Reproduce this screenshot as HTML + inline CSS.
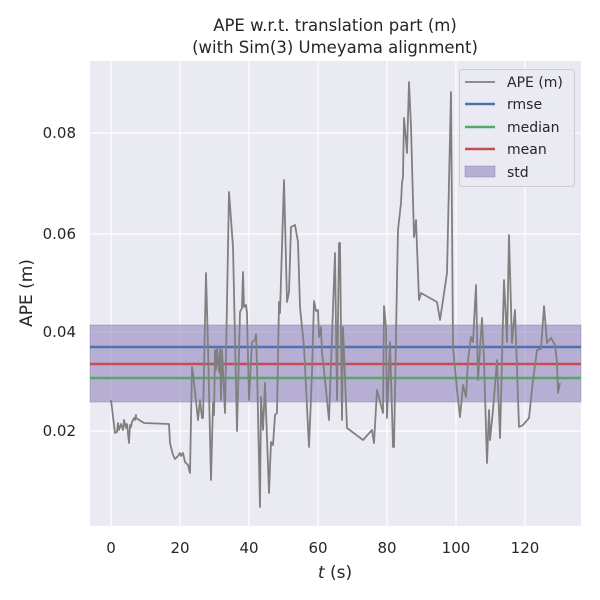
<!DOCTYPE html>
<html><head><style>body{margin:0;background:#fff}svg{display:block}</style></head><body>
<svg width="600" height="600" viewBox="0 0 600 600" font-family="'DejaVu Sans','Liberation Sans',sans-serif">
<rect x="0" y="0" width="600" height="600" fill="#fff"/>
<rect x="90" y="61" width="491" height="465" fill="#eaeaf2"/>
<g stroke="#fff" stroke-width="1.2">
<line x1="111" y1="61" x2="111" y2="526"/><line x1="180" y1="61" x2="180" y2="526"/><line x1="249" y1="61" x2="249" y2="526"/><line x1="318" y1="61" x2="318" y2="526"/><line x1="387" y1="61" x2="387" y2="526"/><line x1="456" y1="61" x2="456" y2="526"/><line x1="525" y1="61" x2="525" y2="526"/>
<line x1="90" y1="133" x2="581" y2="133"/><line x1="90" y1="234" x2="581" y2="234"/><line x1="90" y1="332" x2="581" y2="332"/><line x1="90" y1="431" x2="581" y2="431"/>
</g>
<rect x="90" y="325" width="491" height="77" fill="#8172b3" fill-opacity="0.5" stroke="#8172b3" stroke-opacity="0.4"/>
<line x1="90" y1="347" x2="581" y2="347" stroke="#4c72b0" stroke-width="2.5"/>
<line x1="90" y1="364" x2="581" y2="364" stroke="#c44e52" stroke-width="2.5"/>
<line x1="90" y1="378" x2="581" y2="378" stroke="#55a868" stroke-width="2.5"/>
<polyline fill="none" stroke="#808080" stroke-width="1.8" stroke-linejoin="round" points="111,400 115,433 117,432 118,423 119,430 121,424 123,430 124,420 126,428 127,424 129,443 130,425 131,427 132,422 134,418 135,420 136,415 136,418 144,423 169,424 170,443 173,455 175,459 178,456 180,453 181,456 183,453 185,462 188,465 190,473 192,367 193,373 198,420 200,400 202,418 203,418 206,273 208,347 211,480 213,403 214,415 215,350 216,370 217,348 219,372 220,348 221,400 222,350 223,370 225,413 229,192 233,247 237,431 240,312 242,308 243,272 244,307 246,305 247,313 249,400 252,342 255,340 256,334 257,367 260,507 261,397 263,430 265,383 269,493 271,442 273,445 275,415 277,413 279,302 280,313 284,180 287,302 289,292 291,227 295,225 298,242 300,307 304,347 309,447 312,372 314,301 316,311 318,310 319,337 321,327 322,353 324,370 329,420 335,253 337,400 339,243 340,243 342,420 343,327 347,428 363,440 372,430 374,443 377,390 383,413 384,306 386,327 387,418 390,342 393,447 394,447 397,280 398,230 401,203 402,183 403,177 404,118 406,140 407,153 409,82 411,127 414,237 416,220 419,300 421,293 437,302 440,320 443,300 447,273 451,92 453,347 457,390 460,417 463,385 466,397 468,360 471,337 473,342 476,285 478,380 482,318 484,360 487,463 489,410 490,440 493,410 497,360 500,438 504,280 507,342 509,235 512,343 515,310 519,427 523,425 529,418 533,380 537,350 541,349 544,306 547,343 551,338 555,345 557,363 558,393 560,383"/>
<g font-size="15" fill="#262626">
<g text-anchor="end"><text x="76" y="138">0.08</text><text x="76" y="239">0.06</text><text x="76" y="337">0.04</text><text x="76" y="436">0.02</text></g>
<g text-anchor="middle"><text x="111" y="553">0</text><text x="180" y="553">20</text><text x="249" y="553">40</text><text x="318" y="553">60</text><text x="387" y="553">80</text><text x="456" y="553">100</text><text x="525" y="553">120</text></g>
<text x="335" y="578" text-anchor="middle" font-size="17"><tspan font-style="italic">t</tspan> (s)</text>
<text transform="translate(32,293) rotate(-90)" text-anchor="middle" font-size="17">APE (m)</text>
<text x="335" y="31" text-anchor="middle" font-size="16.5">APE w.r.t. translation part (m)</text>
<text x="335" y="53" text-anchor="middle" font-size="16.5">(with Sim(3) Umeyama alignment)</text>
</g>
<rect x="459.5" y="69.5" width="115" height="117" rx="3" fill="#eaeaf2" fill-opacity="0.8" stroke="#ccc"/>
<g stroke-width="2.5"><line x1="465" y1="82" x2="495" y2="82" stroke="#808080" stroke-width="1.8"/><line x1="465" y1="104" x2="495" y2="104" stroke="#4c72b0"/><line x1="465" y1="127" x2="495" y2="127" stroke="#55a868"/><line x1="465" y1="149" x2="495" y2="149" stroke="#c44e52"/></g>
<rect x="465" y="166" width="30" height="11" fill="#8172b3" fill-opacity="0.5" stroke="#8172b3" stroke-opacity="0.4"/>
<g font-size="14" fill="#262626"><text x="507" y="87">APE (m)</text><text x="507" y="109">rmse</text><text x="507" y="132">median</text><text x="507" y="154">mean</text><text x="507" y="177">std</text></g>
</svg>
</body></html>
